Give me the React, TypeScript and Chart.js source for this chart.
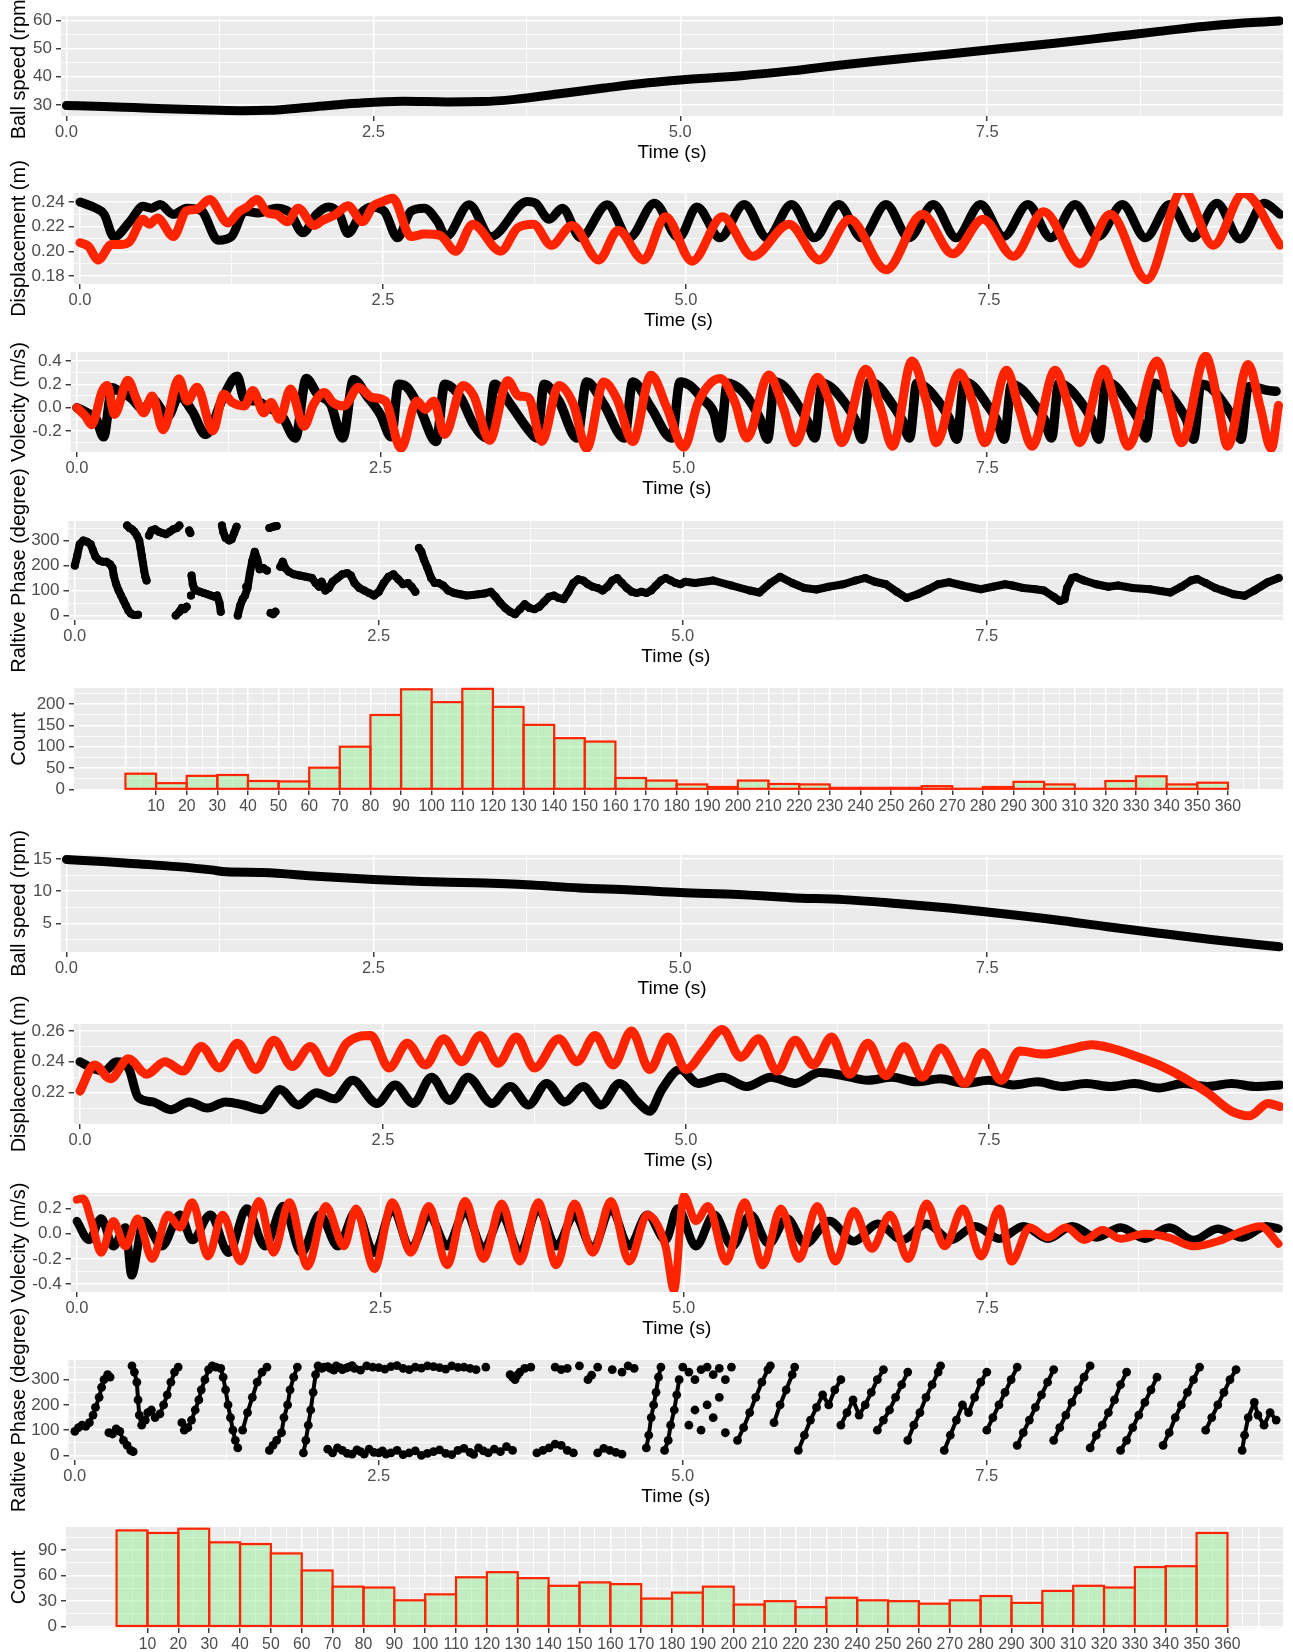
import React, { useEffect, useRef } from 'react';
import { Chart, registerables } from 'chart.js';

Chart.register(...registerables);

const PAGE_W = 1293;
const PAGE_H = 1652;
const PLOT_RIGHT = 1283;
const FONT = "'Liberation Sans', Arial, Helvetica, sans-serif";
const RED = 'rgb(255,36,0)';
const BLACK = '#000000';
Chart.defaults.font.family = FONT;

type Pt = [number, number];

// ---------------- tick labels ----------------
const timeTickValues = [0, 2.5, 5, 7.5];
const timeTickLabels = ['0.0', '2.5', '5.0', '7.5'];
const timeMinor = [1.25, 3.75, 6.25, 8.75];

const histTickValues = Array.from({ length: 36 }, (_, i) => (i + 1) * 10);
const histTickLabels = histTickValues.map((v) => String(v));
const histGridMajor = Array.from({ length: 38 }, (_, i) => i * 10);
const histGridMinor = Array.from({ length: 37 }, (_, i) => i * 10 + 5);
const histBins = [5, 15, 25, 35, 45, 55, 65, 75, 85, 95, 105, 115, 125, 135, 145, 155, 165, 175, 185, 195, 205, 215, 225, 235, 245, 255, 265, 275, 285, 295, 305, 315, 325, 335, 345, 355];

// ---------------- data: trial 1 ----------------
const speed1: Pt[] = [
  [0, 29.8], [0.3, 29.5], [0.55, 29.1], [0.8, 28.7], [1.09, 28.3], [1.42, 28.0], [1.64, 28.1], [2.0, 29.3], [2.37, 30.6],
  [2.74, 31.3], [3.1, 31.1], [3.39, 31.2], [3.65, 32.0], [4.0, 33.9], [4.38, 36.0], [4.74, 37.9], [5.0, 38.9], [5.5, 40.4],
  [5.9, 42.1], [6.33, 44.3], [6.76, 46.2], [7.19, 48.1], [7.62, 50.0], [8.05, 51.9], [8.48, 54.0], [8.9, 56.1], [9.34, 58.2], [9.88, 59.8],
];

const disp1Black: Pt[] = [
  [0, 0.24], [0.13, 0.235], [0.2, 0.23], [0.28, 0.2115], [0.41, 0.224], [0.52, 0.2365], [0.59, 0.235], [0.66, 0.238], [0.77, 0.23],
  [0.88, 0.235], [1.0, 0.233], [1.14, 0.209], [1.25, 0.212], [1.36, 0.2325], [1.47, 0.231], [1.62, 0.235], [1.73, 0.2315], [1.84, 0.215],
  [1.95, 0.23], [2.05, 0.236], [2.14, 0.23], [2.21, 0.2145], [2.32, 0.231], [2.4, 0.236], [2.51, 0.2325], [2.62, 0.211], [2.73, 0.2325],
  [2.84, 0.235], [2.95, 0.224], [3.02, 0.212], [3.21, 0.2378], [3.39, 0.212], [3.69, 0.2405], [3.76, 0.239], [3.87, 0.226], [3.98, 0.235],
  [4.13, 0.211], [4.35, 0.2378], [4.53, 0.211], [4.74, 0.239], [4.94, 0.211], [5.09, 0.236], [5.28, 0.211], [5.48, 0.238], [5.67, 0.211],
  [5.87, 0.238], [6.06, 0.211], [6.26, 0.238], [6.45, 0.211], [6.65, 0.238], [6.84, 0.211], [7.04, 0.238], [7.23, 0.211], [7.43, 0.238],
  [7.62, 0.212], [7.82, 0.238], [8.01, 0.211], [8.21, 0.238], [8.4, 0.212], [8.6, 0.238], [8.79, 0.211], [8.99, 0.238], [9.18, 0.211],
  [9.38, 0.239], [9.57, 0.21], [9.77, 0.239], [9.9, 0.23],
];

const disp1Red: Pt[] = [
  [0, 0.207], [0.07, 0.204], [0.15, 0.193], [0.26, 0.2055], [0.33, 0.2055], [0.41, 0.208], [0.52, 0.226], [0.57, 0.222], [0.64, 0.227],
  [0.77, 0.212], [0.88, 0.233], [0.96, 0.234], [1.07, 0.242], [1.22, 0.223], [1.31, 0.232], [1.38, 0.236], [1.46, 0.242], [1.55, 0.231],
  [1.62, 0.23], [1.71, 0.224], [1.8, 0.235], [1.93, 0.221], [2.0, 0.225], [2.11, 0.23], [2.21, 0.237], [2.33, 0.224], [2.42, 0.237],
  [2.49, 0.24], [2.58, 0.243], [2.73, 0.212], [2.84, 0.214], [2.97, 0.213], [3.1, 0.2], [3.24, 0.222], [3.47, 0.2], [3.61, 0.219],
  [3.74, 0.222], [3.89, 0.205], [4.06, 0.221], [4.28, 0.193], [4.44, 0.217], [4.65, 0.193], [4.83, 0.228], [5.05, 0.192], [5.3, 0.228],
  [5.55, 0.196], [5.85, 0.222], [6.1, 0.193], [6.35, 0.226], [6.65, 0.185], [6.95, 0.23], [7.2, 0.198], [7.45, 0.226], [7.7, 0.196],
  [7.95, 0.232], [8.25, 0.19], [8.5, 0.23], [8.8, 0.177], [9.1, 0.25], [9.35, 0.205], [9.6, 0.247], [9.9, 0.205],
];

const vel1Black: Pt[] = [
  [0, 0], [0.085, -0.044], [0.16, -0.1], [0.22, -0.25], [0.29, 0.17], [0.34, 0.146], [0.44, 0.088], [0.55, -0.015], [0.62, 0.073],
  [0.75, -0.073], [0.84, 0.1], [0.95, -0.03], [1.06, -0.23], [1.21, 0.1], [1.32, 0.27], [1.38, 0.073], [1.47, 0.058], [1.58, 0],
  [1.69, -0.073], [1.8, -0.26], [1.89, 0.25], [1.98, 0.117], [2.09, 0.03], [2.19, -0.26], [2.28, 0.24], [2.39, 0.1], [2.5, -0.058],
  [2.59, -0.25], [2.65, 0.2], [2.72, 0.175], [2.83, -0.015], [2.96, -0.29], [3.03, 0.2], [3.16, 0.088], [3.27, -0.146], [3.38, -0.26],
  [3.44, 0.2], [3.57, 0.03], [3.72, -0.19], [3.79, -0.26], [3.85, 0.2], [3.97, 0.058], [4.12, -0.26], [4.2, 0.22], [4.34, 0.03],
  [4.51, -0.26], [4.58, 0.22], [4.73, 0], [4.9, -0.26], [4.97, 0.22], [5.05, 0.19], [5.15, 0.08], [5.25, -0.05], [5.3, -0.26],
  [5.36, 0.21], [5.45, 0.17], [5.55, 0.05], [5.63, -0.1], [5.69, -0.27], [5.75, 0.22], [5.83, 0.18], [5.93, 0.04], [6.02, -0.12],
  [6.08, -0.26], [6.14, 0.21], [6.22, 0.17], [6.32, 0.05], [6.41, -0.1], [6.47, -0.27], [6.53, 0.22], [6.61, 0.18], [6.71, 0.04],
  [6.8, -0.11], [6.86, -0.26], [6.92, 0.21], [7.0, 0.17], [7.1, 0.05], [7.19, -0.1], [7.25, -0.27], [7.31, 0.22], [7.39, 0.18],
  [7.49, 0.04], [7.58, -0.11], [7.64, -0.27], [7.7, 0.2], [7.78, 0.16], [7.88, 0.04], [7.97, -0.1], [8.03, -0.26], [8.09, 0.21],
  [8.17, 0.17], [8.27, 0.05], [8.36, -0.1], [8.42, -0.27], [8.48, 0.22], [8.56, 0.18], [8.66, 0.04], [8.75, -0.11], [8.81, -0.26],
  [8.87, 0.21], [8.95, 0.17], [9.05, 0.05], [9.14, -0.1], [9.2, -0.27], [9.26, 0.2], [9.34, 0.17], [9.44, 0.05], [9.53, -0.1],
  [9.59, -0.27], [9.65, 0.18], [9.73, 0.17], [9.8, 0.15], [9.88, 0.14],
];

const vel1Red: Pt[] = [
  [0, 0], [0.07, -0.073], [0.12, -0.146], [0.21, 0.146], [0.25, 0.19], [0.31, -0.058], [0.42, 0.234], [0.49, 0.073], [0.55, -0.044],
  [0.62, 0.1], [0.71, -0.19], [0.84, 0.248], [0.91, 0.058], [0.99, 0.175], [1.12, -0.2], [1.21, 0.117], [1.28, 0.044], [1.38, 0.015],
  [1.45, 0.146], [1.54, -0.044], [1.6, 0.044], [1.67, -0.1], [1.76, 0.16], [1.87, -0.16], [1.95, 0.03], [2.04, 0.13], [2.11, 0.044],
  [2.2, 0.015], [2.32, 0.175], [2.43, 0.088], [2.54, 0.058], [2.67, -0.35], [2.8, 0.058], [2.87, -0.015], [2.94, 0.058], [3.03, -0.23],
  [3.18, 0.19], [3.27, 0.1], [3.4, -0.28], [3.55, 0.23], [3.64, 0.1], [3.72, 0.088], [3.83, -0.29], [3.97, 0.19], [4.09, 0.03],
  [4.2, -0.35], [4.34, 0.22], [4.45, 0.073], [4.58, -0.29], [4.73, 0.277], [4.86, 0], [5.0, -0.34], [5.12, 0.05], [5.3, 0.25],
  [5.42, 0.05], [5.52, -0.26], [5.7, 0.28], [5.82, 0.0], [5.92, -0.3], [6.1, 0.26], [6.2, 0.05], [6.3, -0.3], [6.5, 0.33], [6.62, 0.0],
  [6.72, -0.33], [6.88, 0.4], [7.0, 0.05], [7.08, -0.3], [7.27, 0.3], [7.38, 0.05], [7.48, -0.3], [7.66, 0.32], [7.76, 0.0],
  [7.87, -0.33], [8.06, 0.32], [8.16, 0.05], [8.26, -0.3], [8.46, 0.33], [8.56, 0.0], [8.66, -0.33], [8.9, 0.4], [9.0, 0.05],
  [9.1, -0.3], [9.3, 0.44], [9.4, 0.05], [9.48, -0.33], [9.65, 0.37], [9.75, 0.0], [9.84, -0.35], [9.9, 0.02],
];

const phase1Chains: Pt[][] = [
  [[0, 200], [0.02, 240], [0.04, 285], [0.07, 300], [0.1, 295], [0.13, 285], [0.15, 260], [0.17, 235], [0.2, 220], [0.23, 215], [0.26, 215],
    [0.29, 205], [0.31, 190], [0.32, 160], [0.34, 125], [0.36, 100], [0.38, 80], [0.4, 60], [0.42, 40], [0.44, 20], [0.46, 8], [0.48, 3], [0.5, 2], [0.52, 3]],
  [[0.43, 360], [0.45, 350], [0.47, 345], [0.49, 335], [0.51, 320], [0.53, 300], [0.54, 270], [0.55, 240], [0.56, 210], [0.57, 180], [0.58, 155], [0.59, 140]],
  [[0.61, 320], [0.63, 340], [0.66, 345], [0.69, 335], [0.72, 330], [0.75, 325], [0.78, 335], [0.81, 345], [0.84, 350], [0.86, 360]],
  [[0.83, 0], [0.86, 15], [0.88, 30], [0.9, 25], [0.92, 35]],
  [[0.94, 340], [0.95, 330]],
  [[0.955, 80]],
  [[0.96, 160], [0.97, 125], [0.98, 110], [1.0, 100], [1.03, 95], [1.06, 90], [1.09, 85], [1.12, 80], [1.15, 75], [1.17, 80], [1.19, 50], [1.2, 15]],
  [[1.21, 360], [1.22, 335], [1.24, 310], [1.27, 300], [1.29, 305], [1.31, 330], [1.33, 355]],
  [[1.34, 0], [1.36, 40], [1.38, 65], [1.4, 80], [1.42, 110], [1.44, 170], [1.46, 220], [1.48, 255], [1.5, 225], [1.52, 185], [1.55, 190], [1.58, 180]],
  [[1.41, 115]],
  [[1.6, 350], [1.63, 355], [1.66, 358]],
  [[1.61, 10], [1.63, 5], [1.65, 15]],
  [[1.69, 195], [1.71, 215], [1.73, 190], [1.76, 175], [1.8, 165], [1.85, 160], [1.9, 155], [1.95, 150], [1.98, 130], [2.01, 115], [2.03, 135],
    [2.06, 100], [2.09, 110], [2.12, 135], [2.16, 150], [2.2, 165], [2.24, 170], [2.27, 160], [2.3, 130], [2.34, 110], [2.38, 100], [2.42, 90],
    [2.46, 80], [2.5, 95], [2.54, 130], [2.58, 155], [2.62, 165], [2.66, 145], [2.7, 125], [2.74, 130], [2.77, 115], [2.8, 95]],
  [[2.83, 270], [2.85, 255], [2.87, 225], [2.9, 190], [2.93, 150], [2.96, 130], [2.99, 130], [3.03, 120], [3.07, 100], [3.12, 90], [3.17, 85],
    [3.22, 80], [3.27, 82], [3.32, 85], [3.37, 88], [3.42, 95], [3.46, 75], [3.5, 50], [3.54, 30], [3.58, 15], [3.62, 5], [3.66, 25], [3.7, 45],
    [3.74, 30], [3.78, 25], [3.82, 35], [3.86, 55], [3.9, 75], [3.94, 80], [3.98, 70], [4.02, 65], [4.06, 95], [4.1, 130], [4.14, 145],
    [4.18, 140], [4.22, 125], [4.26, 115], [4.3, 110], [4.34, 100], [4.38, 115], [4.42, 140], [4.46, 150], [4.5, 130], [4.54, 110],
    [4.58, 95], [4.62, 90], [4.66, 95], [4.7, 90], [4.74, 100], [4.78, 120], [4.82, 140], [4.86, 150], [4.9, 140], [4.94, 130], [4.98, 125],
    [5.02, 135], [5.1, 130], [5.25, 140], [5.4, 120], [5.55, 100], [5.63, 92], [5.72, 130], [5.8, 155], [5.9, 130], [6.0, 110], [6.1, 104],
    [6.2, 115], [6.32, 125], [6.42, 140], [6.5, 150], [6.58, 135], [6.67, 125], [6.76, 95], [6.84, 70], [6.93, 85], [7.02, 105], [7.1, 125],
    [7.19, 133], [7.3, 120], [7.45, 105], [7.55, 115], [7.65, 125], [7.71, 120], [7.8, 110], [7.9, 105], [7.97, 100], [8.05, 75], [8.1, 58],
    [8.14, 65], [8.16, 110], [8.2, 150], [8.23, 154], [8.3, 140], [8.4, 125], [8.5, 115], [8.58, 120], [8.7, 110], [8.84, 105], [8.93, 98],
    [9.01, 92], [9.1, 115], [9.18, 140], [9.23, 146], [9.3, 130], [9.38, 110], [9.44, 100], [9.53, 85], [9.62, 79], [9.7, 100], [9.81, 133], [9.9, 150]],
];

const hist1Counts = [37, 15, 32, 34, 20, 19, 51, 100, 174, 234, 204, 235, 193, 151, 120, 112, 27, 21, 12, 6, 21, 13, 12, 4, 4, 4, 8, 2, 6, 18, 12, 2, 20, 31, 12, 16];

// ---------------- data: trial 2 ----------------
const speed2: Pt[] = [
  [0, 14.9], [0.3, 14.6], [0.6, 14.2], [0.9, 13.8], [1.18, 13.3], [1.3, 13.0], [1.6, 12.9], [2.04, 12.3], [2.5, 11.8], [2.9, 11.5],
  [3.32, 11.3], [3.75, 11.0], [4.18, 10.5], [4.6, 10.2], [5.0, 9.8], [5.47, 9.5], [5.9, 9.0], [6.33, 8.7], [6.76, 8.1], [7.19, 7.4],
  [7.5, 6.8], [8.05, 5.6], [8.48, 4.5], [8.9, 3.5], [9.34, 2.5], [9.88, 1.4],
];

const disp2Black: Pt[] = [
  [0, 0.24], [0.1, 0.236], [0.2, 0.234], [0.3, 0.24], [0.4, 0.236], [0.48, 0.217], [0.6, 0.214], [0.75, 0.209], [0.9, 0.214], [1.05, 0.21],
  [1.2, 0.214], [1.35, 0.212], [1.5, 0.209], [1.65, 0.222], [1.8, 0.212], [1.95, 0.22], [2.1, 0.216], [2.25, 0.228], [2.45, 0.213],
  [2.6, 0.225], [2.75, 0.213], [2.9, 0.23], [3.05, 0.215], [3.2, 0.23], [3.4, 0.213], [3.55, 0.224], [3.7, 0.212], [3.85, 0.226], [4.0, 0.214],
  [4.15, 0.224], [4.3, 0.212], [4.45, 0.226], [4.6, 0.214], [4.7, 0.208], [4.8, 0.222], [4.95, 0.235], [5.1, 0.226], [5.3, 0.23], [5.5, 0.224],
  [5.7, 0.23], [5.9, 0.226], [6.1, 0.233], [6.3, 0.231], [6.5, 0.228], [6.7, 0.23], [6.9, 0.227], [7.1, 0.229], [7.3, 0.226], [7.5, 0.228],
  [7.7, 0.225], [7.9, 0.227], [8.1, 0.224], [8.3, 0.226], [8.5, 0.224], [8.7, 0.226], [8.9, 0.223], [9.1, 0.226], [9.3, 0.224], [9.5, 0.226],
  [9.7, 0.224], [9.9, 0.225],
];

const disp2Red: Pt[] = [
  [0, 0.221], [0.12, 0.238], [0.25, 0.229], [0.4, 0.242], [0.55, 0.232], [0.7, 0.24], [0.85, 0.234], [1.0, 0.25], [1.15, 0.236], [1.3, 0.252],
  [1.45, 0.235], [1.6, 0.254], [1.75, 0.237], [1.9, 0.25], [2.05, 0.233], [2.2, 0.252], [2.4, 0.257], [2.55, 0.236], [2.7, 0.252],
  [2.85, 0.238], [3.0, 0.255], [3.15, 0.24], [3.3, 0.257], [3.45, 0.239], [3.6, 0.256], [3.75, 0.236], [3.95, 0.255], [4.1, 0.24],
  [4.25, 0.257], [4.4, 0.238], [4.55, 0.26], [4.7, 0.235], [4.85, 0.256], [5.0, 0.235], [5.15, 0.248], [5.3, 0.261], [5.45, 0.243],
  [5.6, 0.255], [5.75, 0.234], [5.9, 0.254], [6.05, 0.238], [6.2, 0.256], [6.35, 0.232], [6.5, 0.252], [6.65, 0.231], [6.8, 0.25],
  [6.95, 0.23], [7.1, 0.249], [7.3, 0.226], [7.45, 0.246], [7.6, 0.228], [7.75, 0.247], [7.95, 0.245], [8.15, 0.248], [8.35, 0.251],
  [8.5, 0.249], [8.7, 0.244], [8.9, 0.238], [9.1, 0.23], [9.3, 0.22], [9.5, 0.208], [9.65, 0.205], [9.8, 0.213], [9.9, 0.211],
];

const vel2Black: Pt[] = [
  [0, 0.1], [0.1, -0.05], [0.2, 0.12], [0.3, -0.1], [0.4, 0.05], [0.45, -0.33], [0.55, 0.1], [0.7, -0.1], [0.85, 0.15], [0.95, -0.05],
  [1.1, 0.15], [1.25, -0.15], [1.4, 0.2], [1.55, -0.1], [1.7, 0.22], [1.85, -0.15], [2.0, 0.15], [2.15, -0.1], [2.3, 0.18], [2.45, -0.15],
  [2.6, 0.2], [2.75, -0.12], [2.9, 0.15], [3.05, -0.1], [3.2, 0.18], [3.35, -0.12], [3.5, 0.15], [3.65, -0.15], [3.8, 0.2], [3.95, -0.1],
  [4.1, 0.15], [4.25, -0.12], [4.4, 0.2], [4.55, -0.1], [4.7, 0.15], [4.85, -0.05], [4.95, 0.2], [5.1, -0.1], [5.25, 0.15], [5.4, -0.1],
  [5.55, 0.15], [5.7, -0.08], [5.85, 0.12], [6.0, -0.08], [6.2, 0.1], [6.4, -0.06], [6.6, 0.08], [6.8, -0.05], [7.0, 0.08], [7.2, -0.05],
  [7.4, 0.06], [7.6, -0.04], [7.8, 0.06], [8.0, -0.04], [8.2, 0.06], [8.4, -0.03], [8.6, 0.05], [8.8, -0.04], [9.0, 0.05], [9.2, -0.05],
  [9.4, 0.04], [9.6, -0.03], [9.8, 0.06], [9.9, 0.04],
];

const vel2Red: Pt[] = [
  [0, 0.27], [0.05, 0.28], [0.12, 0.1], [0.2, -0.15], [0.3, 0.1], [0.4, -0.1], [0.5, 0.12], [0.62, -0.2], [0.75, 0.15], [0.85, 0.05],
  [0.95, 0.25], [1.08, -0.18], [1.2, 0.15], [1.35, -0.22], [1.5, 0.26], [1.62, -0.15], [1.75, 0.25], [1.9, -0.26], [2.05, 0.22],
  [2.2, -0.1], [2.3, 0.2], [2.45, -0.28], [2.6, 0.25], [2.75, -0.15], [2.9, 0.22], [3.05, -0.25], [3.2, 0.26], [3.35, -0.2], [3.5, 0.24],
  [3.65, -0.22], [3.8, 0.25], [3.95, -0.25], [4.1, 0.24], [4.25, -0.15], [4.4, 0.26], [4.55, -0.22], [4.7, 0.15], [4.85, -0.1],
  [4.92, -0.45], [5.0, 0.3], [5.1, 0.1], [5.2, 0.22], [5.35, -0.22], [5.5, 0.25], [5.65, -0.25], [5.8, 0.2], [5.95, -0.2], [6.1, 0.22],
  [6.25, -0.22], [6.4, 0.18], [6.55, -0.12], [6.7, 0.15], [6.85, -0.2], [7.0, 0.24], [7.15, -0.1], [7.3, 0.2], [7.45, -0.18], [7.6, 0.2],
  [7.7, -0.22], [7.85, 0.05], [8.0, -0.03], [8.15, 0.05], [8.3, -0.05], [8.45, 0.03], [8.6, -0.04], [8.8, 0.0], [9.0, -0.03], [9.2, -0.1],
  [9.4, -0.06], [9.6, 0.02], [9.75, 0.06], [9.9, -0.08],
];

const phase2Chains: Pt[][] = [
  [[0, 95], [0.03, 110], [0.06, 120], [0.09, 115], [0.12, 130], [0.15, 160], [0.17, 190], [0.2, 230], [0.22, 270], [0.24, 300], [0.27, 320], [0.29, 310]],
  [[0.28, 90], [0.31, 85], [0.34, 105], [0.37, 95], [0.4, 60], [0.43, 40], [0.46, 20], [0.48, 15]],
  [[0.47, 355], [0.49, 330], [0.51, 290], [0.52, 220], [0.53, 160], [0.55, 120], [0.58, 140], [0.6, 170], [0.63, 180], [0.66, 150], [0.7, 165],
    [0.73, 200], [0.76, 240], [0.79, 290], [0.82, 330], [0.85, 350]],
  [[0.88, 130], [0.9, 100], [0.93, 110], [0.96, 140], [0.99, 180], [1.02, 220], [1.04, 260], [1.07, 300], [1.1, 340], [1.13, 355]],
  [[1.16, 350], [1.2, 345], [1.22, 310], [1.24, 260], [1.26, 200], [1.28, 150], [1.3, 100], [1.32, 60], [1.34, 30]],
  [[1.38, 100], [1.42, 170], [1.46, 230], [1.5, 290], [1.54, 330], [1.58, 350]],
  [[1.6, 20], [1.63, 40], [1.66, 60], [1.7, 90], [1.72, 150], [1.75, 200], [1.77, 260], [1.8, 310], [1.83, 350]],
  [[1.88, 10], [1.9, 60], [1.92, 120], [1.94, 180], [1.96, 250], [1.98, 320], [2.0, 355]],
  [[4.7, 30], [4.72, 80], [4.74, 150], [4.76, 200], [4.78, 250], [4.8, 310], [4.82, 350]],
  [[4.85, 20], [4.88, 60], [4.9, 120], [4.93, 180], [4.95, 240], [4.97, 300]],
  [[5.45, 60], [5.5, 110], [5.55, 170], [5.6, 230], [5.65, 290], [5.7, 340], [5.72, 355]],
  [[5.75, 130], [5.8, 200], [5.85, 260], [5.9, 320], [5.92, 350]],
  [[5.95, 20], [6.0, 80], [6.05, 140], [6.1, 190], [6.15, 240], [6.2, 200], [6.25, 260], [6.3, 300]],
  [[6.3, 120], [6.35, 170], [6.4, 220], [6.45, 160], [6.5, 200], [6.55, 250], [6.6, 300], [6.65, 340]],
  [[6.6, 100], [6.65, 140], [6.7, 180], [6.75, 230], [6.8, 280], [6.85, 330]],
  [[6.85, 60], [6.9, 120], [6.95, 170], [7.0, 230], [7.05, 280], [7.1, 330], [7.12, 355]],
  [[7.15, 20], [7.2, 80], [7.25, 140], [7.3, 200], [7.35, 170], [7.4, 230], [7.45, 290], [7.5, 330]],
  [[7.5, 100], [7.55, 150], [7.6, 200], [7.65, 250], [7.7, 300], [7.75, 350]],
  [[7.75, 40], [7.8, 90], [7.85, 140], [7.9, 190], [7.95, 240], [8.0, 290], [8.05, 340]],
  [[8.05, 60], [8.1, 110], [8.15, 160], [8.2, 210], [8.25, 260], [8.3, 310], [8.35, 355]],
  [[8.35, 30], [8.4, 80], [8.45, 120], [8.5, 170], [8.55, 220], [8.6, 280], [8.65, 330]],
  [[8.6, 20], [8.65, 60], [8.7, 110], [8.75, 160], [8.8, 210], [8.85, 260], [8.9, 310]],
  [[8.95, 40], [9.0, 90], [9.05, 150], [9.1, 200], [9.15, 250], [9.2, 300], [9.25, 350]],
  [[9.3, 100], [9.35, 150], [9.4, 200], [9.45, 250], [9.5, 300], [9.55, 340]],
  [[9.6, 20], [9.62, 80], [9.65, 150], [9.7, 210], [9.73, 160], [9.78, 120], [9.83, 170], [9.88, 140]],
];

const phase2Dots: Pt[] = [
  [2.03, 345], [2.05, 350], [2.08, 352], [2.1, 345], [2.13, 338], [2.15, 355], [2.18, 348], [2.2, 340], [2.23, 346], [2.25, 350], [2.28, 356],
  [2.3, 345], [2.35, 338], [2.4, 355], [2.45, 350], [2.5, 348], [2.55, 342], [2.6, 352], [2.65, 356], [2.7, 345], [2.75, 340], [2.8, 350],
  [2.85, 346], [2.9, 355], [2.95, 352], [3.0, 348], [3.05, 342], [3.1, 355], [3.15, 349], [3.2, 350], [3.25, 345], [3.3, 340], [3.38, 350],
  [3.58, 320], [3.6, 310], [3.62, 300], [3.64, 318], [3.66, 330], [3.7, 345], [3.75, 350], [3.95, 350], [4.0, 340], [4.05, 345], [4.15, 355],
  [4.22, 300], [4.25, 318], [4.3, 350], [4.42, 340], [4.5, 330], [4.55, 355], [4.6, 345],
  [5.0, 350], [5.05, 330], [5.1, 300], [5.15, 340], [5.2, 350], [5.25, 320], [5.3, 345], [5.35, 300], [5.4, 350],
  [2.08, 25], [2.12, 10], [2.16, 30], [2.2, 20], [2.24, 8], [2.28, 5], [2.32, 22], [2.35, 15], [2.38, 5], [2.42, 25], [2.46, 12], [2.5, 10],
  [2.53, 18], [2.56, 5], [2.6, 10], [2.65, 20], [2.7, 3], [2.75, 10], [2.8, 18], [2.85, 0], [2.9, 8], [2.95, 15], [3.0, 22], [3.05, 8],
  [3.1, 3], [3.15, 20], [3.2, 28], [3.25, 12], [3.28, 4], [3.32, 30], [3.36, 18], [3.4, 10], [3.45, 25], [3.5, 15], [3.55, 35], [3.6, 20],
  [3.8, 10], [3.85, 20], [3.9, 30], [3.95, 45], [4.0, 40], [4.05, 20], [4.1, 10], [4.3, 10], [4.35, 28], [4.4, 20], [4.45, 12], [4.5, 5],
  [5.05, 120], [5.1, 180], [5.15, 100], [5.2, 200], [5.25, 150], [5.3, 230], [5.35, 90],
];

const hist2Counts = [113, 110, 115, 99, 97, 86, 66, 47, 46, 31, 38, 58, 64, 57, 48, 52, 50, 33, 40, 47, 26, 30, 23, 34, 31, 30, 27, 31, 36, 28, 42, 48, 46, 70, 71, 110];

// ---------------- helpers ----------------
type TickInfo = { value: number; label: string; major: boolean; mark: boolean };
type TickSet = { list: TickInfo[]; map: Map<number, TickInfo> };
const key = (v: number) => Math.round(v * 1e6);

function makeTicks(gridMajor: number[], gridMinor: number[], labelVals: number[], labelTexts: string[]): TickSet {
  const map = new Map<number, TickInfo>();
  gridMinor.forEach((v) => map.set(key(v), { value: v, label: '', major: false, mark: false }));
  gridMajor.forEach((v) => map.set(key(v), { value: v, label: '', major: true, mark: false }));
  labelVals.forEach((v, i) => map.set(key(v), { value: v, label: labelTexts[i], major: true, mark: true }));
  const list = Array.from(map.values()).sort((a, b) => a.value - b.value);
  return { list, map };
}
const yTicks = (major: number[], labels: string[], minor: number[]) => makeTicks([], minor, major, labels);

const timeTicks = makeTicks([], timeMinor, timeTickValues, timeTickLabels);
const histTicks = makeTicks(histGridMajor, histGridMinor, histTickValues, histTickLabels);

const toXY = (pts: Pt[]) => pts.map(([x, y]) => ({ x, y }));
function chainsToXY(chains: Pt[][]) {
  const out: { x: number; y: number | null }[] = [];
  chains.forEach((c, i) => {
    if (i > 0) out.push({ x: c[0][0], y: null });
    c.forEach(([x, y]) => out.push({ x, y }));
  });
  return out;
}

const smooth = (pts: Pt[], color: string, width = 8.5) => ({
  data: toXY(pts),
  borderColor: color,
  backgroundColor: color,
  borderWidth: width,
  pointRadius: 0,
  cubicInterpolationMode: 'monotone',
  borderCapStyle: 'round',
  borderJoinStyle: 'round',
  fill: false,
});

const chainSet = (chains: Pt[][], lineWidth: number, radius: number) => ({
  data: chainsToXY(chains),
  borderColor: BLACK,
  backgroundColor: BLACK,
  borderWidth: lineWidth,
  pointRadius: radius,
  pointBackgroundColor: BLACK,
  pointBorderWidth: 0,
  tension: 0,
  spanGaps: false,
  borderCapStyle: 'round',
  borderJoinStyle: 'round',
  fill: false,
});

const dotSet = (data: { x: number; y: number | null }[]) => ({
  data,
  showLine: false,
  pointRadius: 4.4,
  pointBackgroundColor: BLACK,
  pointBorderWidth: 0,
  borderColor: BLACK,
  backgroundColor: BLACK,
});

const histSet = (counts: number[]) => ({
  data: histBins.map((b, i) => ({ x: b, y: counts[i] })),
  backgroundColor: 'rgba(144,238,144,0.45)',
  borderWidth: 0,
  // the bar ruler also counts the 5-unit grid ticks, so 2 x 5 units = one 10-degree bin
  barPercentage: 2,
  categoryPercentage: 1,
  grouped: false,
});

// ggplot-like outline centred on each bar edge (also visible for very low counts)
const histOutlinePlugin = {
  id: 'histOutline',
  afterDatasetsDraw(chart: any) {
    if (chart.config.type !== 'bar') return;
    const { ctx } = chart;
    const meta = chart.getDatasetMeta(0);
    ctx.save();
    ctx.strokeStyle = RED;
    ctx.lineWidth = 2.2;
    ctx.lineJoin = 'miter';
    meta.data.forEach((el: any) => {
      const { x, y, base, width } = el.getProps(['x', 'y', 'base', 'width'], true);
      const top = Math.min(y, base);
      const h = Math.abs(base - y);
      ctx.strokeRect(x - width / 2, top, width, h);
    });
    ctx.restore();
  },
};

type PanelSpec = {
  id: string;
  top: number;
  bottom: number;
  left: number;
  xMin: number;
  xMax: number;
  yMin: number;
  yMax: number;
  xTicks: TickSet;
  yTicks: TickSet;
  yTitle: string;
  xTitle: string | null;
  kind: 'line' | 'bar';
  datasets: any[];
};

const panels: PanelSpec[] = [
  {
    id: 'speed1', top: 16, bottom: 116, left: 61, xMin: -0.044, xMax: 9.909, yMin: 26.1, yMax: 61.56,
    xTicks: timeTicks, yTicks: yTicks([30, 40, 50, 60], ['30', '40', '50', '60'], [35, 45, 55]),
    yTitle: 'Ball speed (rpm)', xTitle: 'Time (s)', kind: 'line', datasets: [smooth(speed1, BLACK, 9)],
  },
  {
    id: 'disp1', top: 193, bottom: 284, left: 73.7, xMin: -0.052, xMax: 9.925, yMin: 0.1735, yMax: 0.2473,
    xTicks: timeTicks, yTicks: yTicks([0.18, 0.2, 0.22, 0.24], ['0.18', '0.20', '0.22', '0.24'], [0.19, 0.21, 0.23]),
    yTitle: 'Displacement (m)', xTitle: 'Time (s)', kind: 'line', datasets: [smooth(disp1Red, RED, 9), smooth(disp1Black, BLACK, 9)],
  },
  {
    id: 'vel1', top: 352, bottom: 452, left: 70.6, xMin: -0.052, xMax: 9.937, yMin: -0.38, yMax: 0.477,
    xTicks: timeTicks, yTicks: yTicks([-0.2, 0, 0.2, 0.4], ['-0.2', '0.0', '0.2', '0.4'], [-0.3, -0.1, 0.1, 0.3]),
    yTitle: 'Volecity (m/s)', xTitle: 'Time (s)', kind: 'line', datasets: [smooth(vel1Red, RED, 9), smooth(vel1Black, BLACK, 9.5)],
  },
  {
    id: 'phase1', top: 521, bottom: 620, left: 68.5, xMin: -0.052, xMax: 9.936, yMin: -18, yMax: 378,
    xTicks: timeTicks, yTicks: yTicks([0, 100, 200, 300], ['0', '100', '200', '300'], [50, 150, 250, 350]),
    yTitle: 'Raltive Phase (degree)', xTitle: 'Time (s)', kind: 'line', datasets: [chainSet(phase1Chains, 8, 4)],
  },
  {
    id: 'hist1', top: 688, bottom: 790, left: 74, xMin: -16.8, xMax: 378, yMin: -1, yMax: 237,
    xTicks: histTicks, yTicks: yTicks([0, 50, 100, 150, 200], ['0', '50', '100', '150', '200'], [25, 75, 125, 175, 225]),
    yTitle: 'Count', xTitle: null, kind: 'bar', datasets: [histSet(hist1Counts)],
  },
  {
    id: 'speed2', top: 855, bottom: 952, left: 61, xMin: -0.044, xMax: 9.909, yMin: 0.6, yMax: 15.6,
    xTicks: timeTicks, yTicks: yTicks([5, 10, 15], ['5', '10', '15'], [2.5, 7.5, 12.5]),
    yTitle: 'Ball speed (rpm)', xTitle: 'Time (s)', kind: 'line', datasets: [smooth(speed2, BLACK, 9)],
  },
  {
    id: 'disp2', top: 1024, bottom: 1124, left: 73.7, xMin: -0.052, xMax: 9.925, yMin: 0.1997, yMax: 0.2645,
    xTicks: timeTicks, yTicks: yTicks([0.22, 0.24, 0.26], ['0.22', '0.24', '0.26'], [0.21, 0.23, 0.25]),
    yTitle: 'Displacement (m)', xTitle: 'Time (s)', kind: 'line', datasets: [smooth(disp2Red, RED, 9), smooth(disp2Black, BLACK, 9)],
  },
  {
    id: 'vel2', top: 1193, bottom: 1292, left: 70.6, xMin: -0.052, xMax: 9.937, yMin: -0.462, yMax: 0.323,
    xTicks: timeTicks, yTicks: yTicks([-0.4, -0.2, 0, 0.2], ['-0.4', '-0.2', '0.0', '0.2'], [-0.3, -0.1, 0.1, 0.3]),
    yTitle: 'Volecity (m/s)', xTitle: 'Time (s)', kind: 'line', datasets: [smooth(vel2Red, RED, 8), smooth(vel2Black, BLACK, 8.5)],
  },
  {
    id: 'phase2', top: 1360, bottom: 1460, left: 68.5, xMin: -0.052, xMax: 9.936, yMin: -18, yMax: 378,
    xTicks: timeTicks, yTicks: yTicks([0, 100, 200, 300], ['0', '100', '200', '300'], [50, 150, 250, 350]),
    yTitle: 'Raltive Phase (degree)', xTitle: 'Time (s)', kind: 'line',
    datasets: [chainSet(phase2Chains, 4, 4.4), dotSet(toXY(phase2Dots))],
  },
  {
    id: 'hist2', top: 1527, bottom: 1628, left: 66, xMin: -16.4, xMax: 378, yMin: -1.5, yMax: 117,
    xTicks: histTicks, yTicks: yTicks([0, 30, 60, 90], ['0', '30', '60', '90'], [15, 45, 75, 105]),
    yTitle: 'Count', xTitle: null, kind: 'bar', datasets: [histSet(hist2Counts)],
  },
];

const bgPlugin = {
  id: 'panelBg',
  beforeDraw(chart: any) {
    const { ctx, chartArea: a } = chart;
    ctx.save();
    ctx.fillStyle = '#EBEBEB';
    ctx.fillRect(a.left, a.top, a.right - a.left, a.bottom - a.top);
    ctx.restore();
  },
};

function axisBase(t: TickSet, padding: number, fontSize: number) {
  return {
    type: 'linear',
    offset: false,
    afterBuildTicks: (s: any) => {
      s.ticks = t.list.map((x) => ({ value: x.value }));
    },
    ticks: {
      autoSkip: false,
      maxRotation: 0,
      minRotation: 0,
      color: '#4D4D4D',
      font: { family: FONT, size: fontSize },
      padding,
      callback: (v: number) => {
        const info = t.map.get(key(v));
        return info ? info.label : '';
      },
    },
    grid: {
      offset: false,
      color: '#FFFFFF',
      lineWidth: (c: any) => {
        const info = c.tick ? t.map.get(key(c.tick.value)) : undefined;
        return info && info.major ? 1.5 : 0.8;
      },
      drawTicks: true,
      tickLength: 5,
      tickWidth: 1.4,
      tickColor: (c: any) => {
        const info = c.tick ? t.map.get(key(c.tick.value)) : undefined;
        return info && info.mark ? '#333333' : 'rgba(0,0,0,0)';
      },
    },
    border: { display: false },
  };
}

function canvasBounds(p: PanelSpec) {
  const ct = Math.max(0, p.top - 70);
  const cb = Math.min(PAGE_H, p.bottom + 70);
  return { ct, cb };
}

function buildConfig(p: PanelSpec): any {
  const { ct, cb } = canvasBounds(p);
  const xh = p.xTitle ? 50 : 24;
  const xFont = p.kind === 'bar' ? 15.8 : 16.5;
  return {
    type: p.kind,
    data: { datasets: p.datasets },
    options: {
      responsive: false,
      maintainAspectRatio: false,
      animation: false,
      devicePixelRatio: 1,
      events: [],
      layout: { padding: { top: p.top - ct, bottom: Math.max(0, cb - p.bottom - xh), left: 0, right: PAGE_W - PLOT_RIGHT } },
      plugins: { legend: { display: false }, tooltip: { enabled: false }, title: { display: false } },
      scales: {
        x: {
          ...axisBase(p.xTicks, 2, xFont),
          position: 'bottom',
          min: p.xMin,
          max: p.xMax,
          afterFit: (s: any) => {
            s.height = xh;
          },
          title: p.xTitle
            ? { display: true, text: p.xTitle, color: '#000000', font: { family: FONT, size: 19 }, padding: { top: 0, bottom: 1.6 } }
            : { display: false },
        },
        y: {
          ...axisBase(p.yTicks, 4, 17),
          position: 'left',
          min: p.yMin,
          max: p.yMax,
          afterFit: (s: any) => {
            s.width = p.left;
          },
          title: { display: true, text: p.yTitle, color: '#000000', font: { family: FONT, size: 20 }, padding: { top: 7.5, bottom: 0 } },
        },
      },
    },
    plugins: [bgPlugin, histOutlinePlugin],
  };
}

function Panel({ spec }: { spec: PanelSpec }) {
  const ref = useRef<HTMLCanvasElement | null>(null);
  const { ct, cb } = canvasBounds(spec);
  useEffect(() => {
    if (!ref.current) return;
    const chart = new Chart(ref.current, buildConfig(spec));
    return () => chart.destroy();
  }, [spec]);
  return (
    <canvas
      ref={ref}
      width={PAGE_W}
      height={cb - ct}
      style={{ position: 'absolute', left: 0, top: ct, width: PAGE_W, height: cb - ct, display: 'block' }}
    />
  );
}

export default function App() {
  return (
    <div style={{ position: 'absolute', left: 0, top: 0, width: PAGE_W, height: PAGE_H, background: '#FFFFFF', overflow: 'hidden' }}>
      {panels.map((p) => (
        <Panel key={p.id} spec={p} />
      ))}
    </div>
  );
}
